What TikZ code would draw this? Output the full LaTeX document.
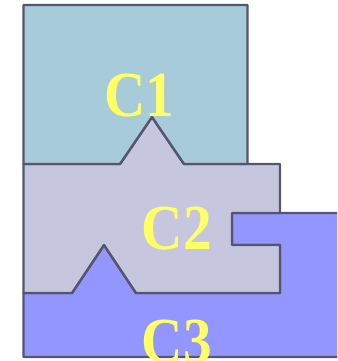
\documentclass[tikz,border=0pt]{standalone}
\usepackage{fontspec}
\setmainfont{Liberation Serif}
\usetikzlibrary{positioning}

\definecolor{compAcol}{HTML}{A7CBD9}
\definecolor{compBcol}{HTML}{C6C7DF}
\definecolor{compCcol}{HTML}{9496FF}
\definecolor{edgecol}{HTML}{555570}
\definecolor{labelcol}{HTML}{FFFF66}

% tall bold label
\newcommand{\piecelabel}[1]{\scalebox{1}[1.12]{#1}}

\begin{document}
\begin{tikzpicture}[
    x=0.75pt, y=-0.75pt,
    piece/.style={draw=edgecol, line width=1.8pt, line join=round},
    complabel/.style={font=\bfseries\fontsize{43}{43}\selectfont, text=labelcol, inner sep=0pt}
]

\useasboundingbox (0,0) rectangle (337,361);
\clip (0,0) rectangle (337,361);

% ============ C3: bottom piece (runs off to the right) ============
\draw[piece, fill=compCcol] (23.5,293) -- (72,293) -- (104,245) -- (136,293) -- (280,293)
    -- (280,245) -- (232,245) -- (232,213) -- (350,213) -- (350,357) -- (23.5,357) -- cycle;

% ============ C2: middle piece with notch ============
\draw[piece, fill=compBcol] (23.5,164) -- (120,164) -- (152,117) -- (184,164) -- (280,164)
    -- (280,213) -- (232,213) -- (232,245) -- (280,245) -- (280,293)
    -- (136,293) -- (104,245) -- (72,293) -- (23.5,293) -- cycle;

% ============ C1: top piece ============
\draw[piece, fill=compAcol] (23.5,5) -- (247.5,5) -- (247.5,164) -- (184,164)
    -- (152,117) -- (120,164) -- (23.5,164) -- cycle;

% Labels
\node[complabel] (c1) at (139.5,96) {\piecelabel{C1}};
\node[complabel] (c2) at (177,229) {\piecelabel{C2}};
\node[complabel] (c3) at (177,341.5) {\piecelabel{C3}};

\end{tikzpicture}
\end{document}
